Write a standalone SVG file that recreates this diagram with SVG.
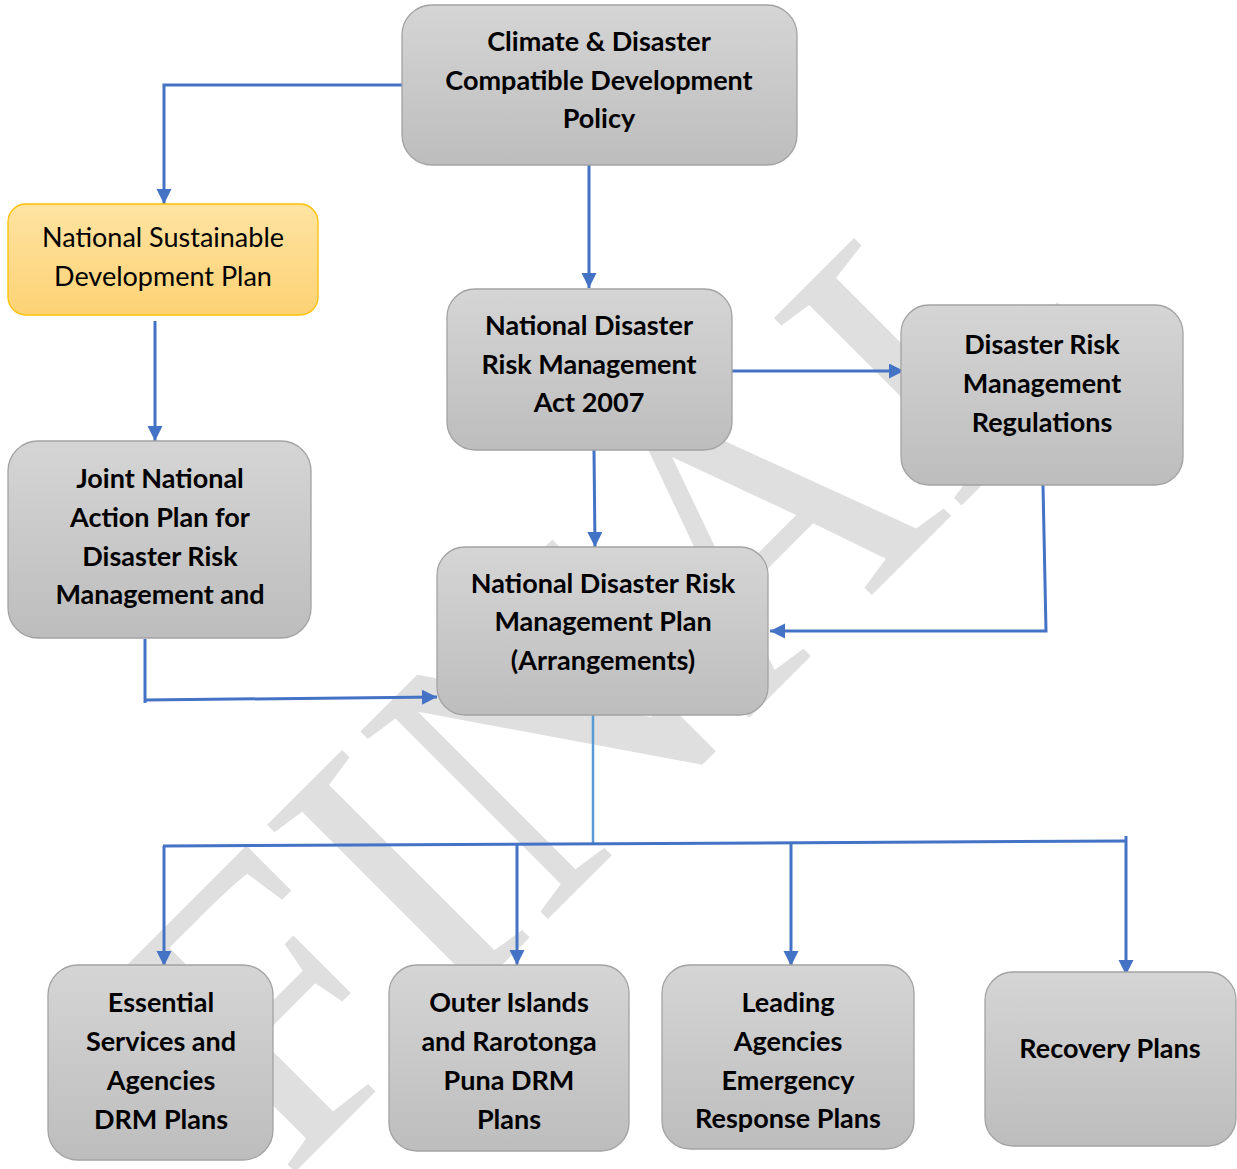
<svg xmlns="http://www.w3.org/2000/svg" width="1237" height="1169" viewBox="0 0 1237 1169">
<style>
.box{fill:url(#g);stroke:#a3a3a3;stroke-width:1.3}
.ybox{fill:url(#y);stroke:#ffc000;stroke-width:1.3}
.t{font-family:Lato,"Liberation Sans",sans-serif;font-weight:bold;font-size:27px;fill:#000;text-anchor:middle}
.r{font-weight:normal}
.c{fill:none;stroke:#4472c4;stroke-width:3}
.wm{font-family:"Liberation Serif",serif;font-size:405px;fill:#dfdfdf}
</style>
<defs>
<linearGradient id="g" x1="0" y1="0" x2="0" y2="1"><stop offset="0" stop-color="#d5d5d5"/><stop offset="1" stop-color="#bdbdbd"/></linearGradient>
<linearGradient id="y" x1="0" y1="0" x2="0" y2="1"><stop offset="0" stop-color="#fee3a2"/><stop offset="1" stop-color="#fdd274"/></linearGradient>
<marker id="a" markerUnits="userSpaceOnUse" markerWidth="16" markerHeight="16" refX="15" refY="7.5" orient="auto"><path d="M0,0 L15,7.5 L0,15 z" fill="#4472c4"/></marker>
</defs>
<rect width="1237" height="1169" fill="#fff"/>
<text class="wm" transform="translate(285,1182) rotate(-45)">FINAL</text>
<g id="connectors">
<path class="c" d="M402,85 H164 V204" marker-end="url(#a)"/>
<path class="c" d="M589,165 V288" marker-end="url(#a)"/>
<path class="c" d="M155,321 V441" marker-end="url(#a)"/>
<path class="c" d="M732,371 H904" marker-end="url(#a)"/>
<path class="c" d="M594,450 L595,547" marker-end="url(#a)"/>
<path class="c" d="M1043,485 L1046,631 H770" marker-end="url(#a)"/>
<path class="c" d="M145,639 V703"/>
<path class="c" d="M145,700 L437,697" marker-end="url(#a)"/>
<path fill="none" stroke="#5b9bd5" stroke-width="2.5" d="M593,715 V843"/>
<path class="c" d="M163,846 L1127,841"/>
<path class="c" d="M164,846 V966" marker-end="url(#a)"/>
<path class="c" d="M517,845 V965" marker-end="url(#a)"/>
<path class="c" d="M791,844 V966" marker-end="url(#a)"/>
<path class="c" d="M1126,836 V975" marker-end="url(#a)"/>
</g>
<g id="n1"><rect class="box" x="402" y="5" width="395" height="160" rx="30"/>
<text class="t" x="599" y="51">Climate &amp; Disaster</text><text class="t" x="599" y="90">Compatible Development</text><text class="t" x="599" y="128">Policy</text></g>
<g id="n2"><rect class="ybox" x="8" y="204" width="310" height="111" rx="18"/>
<text class="t r" x="163" y="247">National Sustainable</text><text class="t r" x="163" y="286">Development Plan</text></g>
<g id="n3"><rect class="box" x="447" y="289" width="285" height="161" rx="28"/>
<text class="t" x="589" y="335">National Disaster</text><text class="t" x="589" y="374">Risk Management</text><text class="t" x="589" y="412">Act 2007</text></g>
<g id="n4"><rect class="box" x="901" y="305" width="282" height="180" rx="28"/>
<text class="t" x="1042" y="354">Disaster Risk</text><text class="t" x="1042" y="393">Management</text><text class="t" x="1042" y="432">Regulations</text></g>
<g id="n5"><rect class="box" x="8" y="441" width="303" height="197" rx="30"/>
<text class="t" x="160" y="488">Joint National</text><text class="t" x="160" y="527">Action Plan for</text><text class="t" x="160" y="566">Disaster Risk</text><text class="t" x="160" y="604">Management and</text></g>
<g id="n6"><rect class="box" x="437" y="547" width="331" height="168" rx="28"/>
<text class="t" x="603" y="593">National Disaster Risk</text><text class="t" x="603" y="631">Management Plan</text><text class="t" x="603" y="670">(Arrangements)</text></g>
<g id="n7"><rect class="box" x="48" y="965" width="225" height="195" rx="30"/>
<text class="t" x="161" y="1012">Essential</text><text class="t" x="161" y="1051">Services and</text><text class="t" x="161" y="1090">Agencies</text><text class="t" x="161" y="1129">DRM Plans</text></g>
<g id="n8"><rect class="box" x="389" y="965" width="240" height="186" rx="28"/>
<text class="t" x="509" y="1012">Outer Islands</text><text class="t" x="509" y="1051">and Rarotonga</text><text class="t" x="509" y="1090">Puna DRM</text><text class="t" x="509" y="1129">Plans</text></g>
<g id="n9"><rect class="box" x="662" y="965" width="252" height="184" rx="28"/>
<text class="t" x="788" y="1012">Leading</text><text class="t" x="788" y="1051">Agencies</text><text class="t" x="788" y="1090">Emergency</text><text class="t" x="788" y="1128">Response Plans</text></g>
<g id="n10"><rect class="box" x="985" y="972" width="251" height="174" rx="28"/>
<text class="t" x="1110" y="1058">Recovery Plans</text></g>
</svg>
